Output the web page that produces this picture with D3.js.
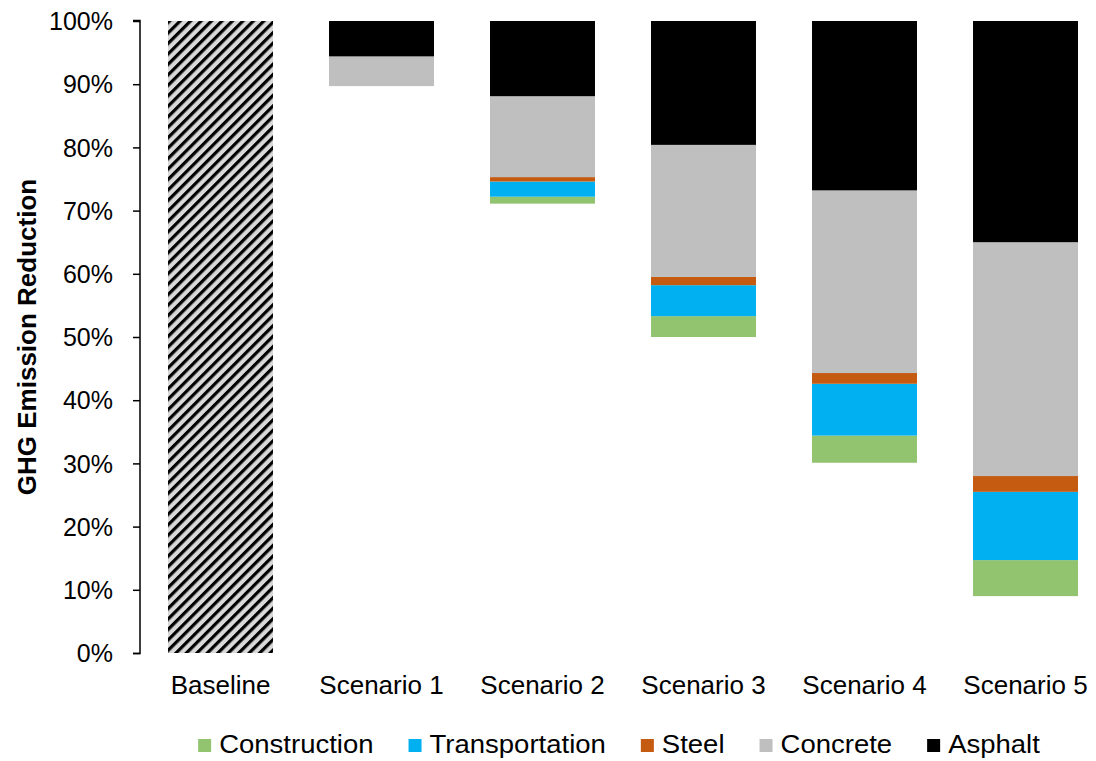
<!DOCTYPE html>
<html>
<head>
<meta charset="utf-8">
<script src="https://cdn.jsdelivr.net/npm/d3@7"></script>
<style>
  html, body { margin: 0; padding: 0; background: #fff; }
  svg { display: block; font-family: "Liberation Sans", Arial, sans-serif; }
</style>
</head>
<body>
<svg id="chart" width="1096" height="761"></svg>
<script>
// ---- Data (percent) ----
const categories = ["Baseline", "Scenario 1", "Scenario 2", "Scenario 3", "Scenario 4", "Scenario 5"];
const baselineValues = [100, 0, 0, 0, 0, 0];
const offsetValues = [0, 89.7, 71.1, 50.0, 30.1, 9.0];        // invisible floating base
const construction = [0, 0, 1.1, 3.3, 4.3, 5.7];
const transportation = [0, 0, 2.4, 4.9, 8.2, 10.8];
const steel = [0, 0, 0.7, 1.3, 1.7, 2.5];
const concrete = [0, 4.7, 12.8, 20.9, 28.9, 37.0];
const asphalt = [0, 5.6, 11.9, 19.6, 26.8, 35.0];
const yTicks = [0, 10, 20, 30, 40, 50, 60, 70, 80, 90, 100];
const seriesNames = ["Construction", "Transportation", "Steel", "Concrete", "Asphalt"];
const seriesColors = ["#92C470", "#00B0F0", "#C55A11", "#BFBFBF", "#000000"];

const rows = categories.map((c, i) => ({
  category: c,
  offset: offsetValues[i],
  Construction: construction[i],
  Transportation: transportation[i],
  Steel: steel[i],
  Concrete: concrete[i],
  Asphalt: asphalt[i]
}));

const svg = d3.select("#chart");

// hatch pattern for baseline
const defs = svg.append("defs");
const pat = defs.append("pattern")
  .attr("id", "hatch")
  .attr("patternUnits", "userSpaceOnUse")
  .attr("width", 7.4).attr("height", 7.4)
  .attr("patternTransform", "rotate(45)");
pat.append("rect").attr("width", 7.4).attr("height", 7.4).attr("fill", "#d9d9d9");
pat.append("rect").attr("width", 3.2).attr("height", 7.4).attr("fill", "#000");

const x = d3.scaleBand()
  .domain(categories)
  .range([140, 1106])
  .paddingInner(0.348)
  .paddingOuter(0.174);

const y = d3.scaleLinear().domain([0, 100]).range([653, 21]);

// baseline hatched bar
svg.append("g").selectAll("rect")
  .data(categories.map((c, i) => ({ c, v: baselineValues[i] })).filter(d => d.v > 0))
  .join("rect")
  .attr("x", d => x(d.c))
  .attr("width", x.bandwidth())
  .attr("y", d => y(d.v))
  .attr("height", d => y(0) - y(d.v))
  .attr("fill", "url(#hatch)");

// stacked floating bars
const stack = d3.stack().keys(["offset", ...seriesNames]);
const stacked = stack(rows);
const color = d3.scaleOrdinal().domain(seriesNames).range(seriesColors);

svg.append("g").selectAll("g")
  .data(stacked.filter(s => s.key !== "offset"))
  .join("g")
  .attr("fill", s => color(s.key))
  .selectAll("rect")
  .data(s => s.filter(d => d[1] - d[0] > 0))
  .join("rect")
  .attr("x", d => x(d.data.category))
  .attr("width", x.bandwidth())
  .attr("y", d => y(d[1]))
  .attr("height", d => y(d[0]) - y(d[1]));

// y axis
const yAxis = svg.append("g")
  .attr("transform", "translate(140,0)")
  .call(d3.axisLeft(y).tickValues(yTicks).tickFormat(d => d + "%").tickSize(7).tickPadding(20));
yAxis.select(".domain").attr("stroke", "#000").attr("stroke-width", 1.5).attr("d", "M-7,653.5H0V20.5H-7");
yAxis.selectAll(".tick line").attr("stroke", "#000").attr("stroke-width", 1.5);
yAxis.selectAll(".tick text")
  .attr("font-size", 25).attr("font-family", "Liberation Sans, Arial, sans-serif")
  .attr("fill", "#000").attr("dy", "0.35em");

// category labels
svg.append("g").selectAll("text")
  .data(categories)
  .join("text")
  .attr("x", d => x(d) + x.bandwidth() / 2)
  .attr("y", 694)
  .attr("text-anchor", "middle")
  .attr("font-size", 26)
  .attr("fill", "#000")
  .text(d => d);

// y axis title
svg.append("text")
  .attr("transform", "translate(36,337) rotate(-90)")
  .attr("text-anchor", "middle")
  .attr("font-size", 26)
  .attr("font-weight", "bold")
  .attr("fill", "#000")
  .text("GHG Emission Reduction");

// legend
const legend = svg.append("g");
const items = legend.selectAll("g").data(seriesNames).join("g");
items.append("rect").attr("width", 13).attr("height", 13).attr("y", -14)
  .attr("fill", d => color(d));
items.append("text").attr("x", 21).attr("font-size", 25).attr("fill", "#000").text(d => d);
const widths = [];
items.each(function() {
  const t = this.querySelector("text");
  const w = t.getComputedTextLength() * 1.1;
  d3.select(t).attr("textLength", w).attr("lengthAdjust", "spacingAndGlyphs");
  widths.push(21 + w);
});
const gap = 35;
const total = widths.reduce((a, b) => a + b, 0) + gap * (widths.length - 1);
let start = 619 - total / 2;
items.attr("transform", (d, i) => {
  const t = `translate(${start},753)`;
  start += widths[i] + gap;
  return t;
});
</script>
</body>
</html>
